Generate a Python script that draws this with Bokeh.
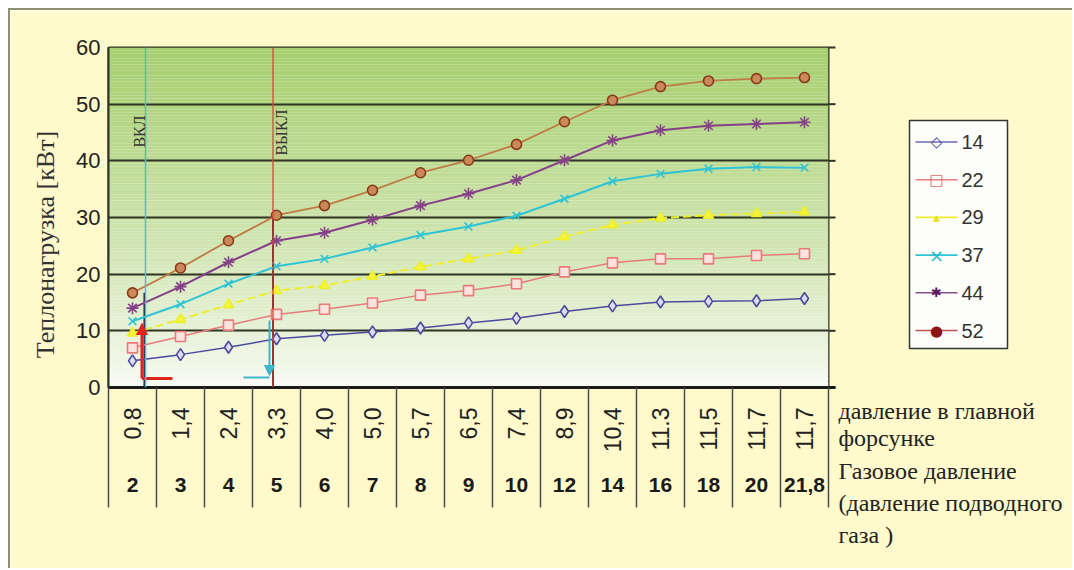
import numpy as np
from math import pi
from bokeh.plotting import figure
from bokeh.models import (Range1d, LinearAxis, FixedTicker, Span, Label, Arrow, NormalHead)
from bokeh.core.properties import value
from bokeh.embed import file_html
from bokeh.resources import INLINE

# ---------------- data ----------------
main_nozzle = ["0,8", "1,4", "2,4", "3,3", "4,0", "5,0", "5,7", "6,5", "7,4", "8,9",
               "10,4", "11.3", "11,5", "11,7", "11,7"]
gas_pressure = ["2", "3", "4", "5", "6", "7", "8", "9", "10", "12", "14", "16", "18", "20", "21,8"]

s14 = [4.7, 5.8, 7.1, 8.6, 9.2, 9.8, 10.5, 11.4, 12.2, 13.4, 14.4, 15.1, 15.2, 15.3, 15.7]
s22 = [7.0, 9.0, 11.0, 12.9, 13.8, 14.9, 16.3, 17.1, 18.3, 20.4, 22.0, 22.7, 22.7, 23.3, 23.6]
s29 = [9.6, 12.0, 14.6, 17.1, 18.0, 19.6, 21.3, 22.7, 24.2, 26.6, 28.7, 29.9, 30.4, 30.7, 31.0]
s37 = [11.7, 14.7, 18.3, 21.4, 22.7, 24.7, 26.9, 28.4, 30.3, 33.3, 36.4, 37.7, 38.6, 38.9, 38.8]
s44 = [14.0, 17.8, 22.1, 25.9, 27.3, 29.6, 32.1, 34.2, 36.6, 40.1, 43.6, 45.4, 46.2, 46.5, 46.8]
s52 = [16.7, 21.1, 25.9, 30.4, 32.1, 34.8, 37.9, 40.1, 42.9, 46.9, 50.7, 53.1, 54.1, 54.5, 54.7]
series_names = ["14", "22", "29", "37", "44", "52"]
series_values = [s14, s22, s29, s37, s44, s52]

y_ticks = [0, 10, 20, 30, 40, 50, 60]
y_title = "Теплонагрузка [кВт]"
right_texts = ["давление в главной", "форсунке", "Газовое давление",
               "(давление подводного", "газа )"]
on_label, off_label = "ВКЛ", "ВЫКЛ"

# ---------------- layout helpers ----------------
n_cat = len(main_nozzle)
xs = [i + 0.5 for i in range(n_cat)]
cream = "#FFF9CB"
dark = "#2e3424"

FRAME_L, FRAME_B = 108, 387          # page pixels of the frame's lower-left corner
FRAME_W, FRAME_H = 720, 340
Y_MAX = 60
PX_X = FRAME_W / n_cat
PX_Y = FRAME_H / Y_MAX
CANVAS_W, CANVAS_H = 1064, 560


def dx(px):
    return (px - FRAME_L) / PX_X


def dy(py):
    return (FRAME_B - py) / PX_Y


p = figure(width=CANVAS_W, height=CANVAS_H, x_range=Range1d(0, n_cat), y_range=Range1d(0, Y_MAX),
           output_backend="svg", toolbar_location=None, x_axis_location=None,
           min_border_left=FRAME_L - 10, min_border_right=CANVAS_W + 10 - FRAME_L - FRAME_W,
           min_border_top=FRAME_B - FRAME_H - 10, min_border_bottom=CANVAS_H + 10 - FRAME_B)
p.margin = (8, 0, 0, 8)
p.styles = {"border-top": "2px solid #8f8f72", "border-left": "2px solid #8f8f72"}
p.border_fill_color = cream
p.background_fill_color = "#fbfcf7"
p.outline_line_color = dark
p.outline_line_width = 2

# gradient background (decoration), painted below the grid
n_strip = 120
edges = np.linspace(0, Y_MAX, n_strip + 1)
top_c = np.array([165, 206, 108])
bot_c = np.array([251, 252, 248])
cols = []
for k in range(n_strip):
    t = ((edges[k] + edges[k + 1]) / 2) / Y_MAX
    c = bot_c + (top_c - bot_c) * (t ** 0.8)
    cols.append("#%02x%02x%02x" % tuple(int(round(v)) for v in c))
p.quad(left=0, right=n_cat, bottom=edges[:-1], top=edges[1:],
       fill_color=cols, line_color=None, level="image")

# grid
p.xgrid.visible = False
p.ygrid.ticker = FixedTicker(ticks=y_ticks)
p.ygrid.grid_line_color = dark
p.ygrid.grid_line_width = 2

# y axis
yax = p.yaxis[0]
yax.ticker = FixedTicker(ticks=y_ticks)
yax.major_tick_out = 0
yax.major_tick_in = 0
yax.minor_tick_out = 0
yax.minor_tick_in = 0
yax.axis_line_color = dark
yax.axis_line_width = 2
yax.major_label_standoff = 8
yax.major_label_text_font = "Liberation Sans"
yax.major_label_text_font_size = "22px"
yax.major_label_text_color = "#222222"

# right-side tick stubs and axis-line overhang (outside the frame -> overlay level)
p.segment(x0=n_cat, x1=n_cat + dx(FRAME_L + 7), y0=y_ticks, y1=y_ticks,
          line_color=dark, line_width=2, level="overlay")
p.segment(x0=[n_cat], x1=[n_cat + dx(FRAME_L + 7)], y0=[0], y1=[0],
          line_color="#1a1a1a", line_width=3, level="overlay")

# bottom "table" axes
ax1 = LinearAxis(ticker=FixedTicker(ticks=xs, minor_ticks=[]),
                 major_label_overrides={x: lab for x, lab in zip(xs, main_nozzle)},
                 major_label_orientation=pi / 2,
                 major_tick_out=0, major_tick_in=0, minor_tick_out=0, minor_tick_in=0,
                 axis_line_color="#1a1a1a", axis_line_width=3,
                 major_label_standoff=20, major_label_text_font="Liberation Sans",
                 major_label_text_font_size="23px", major_label_text_color="#222222")
p.add_layout(ax1, "below")
ax2 = LinearAxis(ticker=FixedTicker(ticks=xs, minor_ticks=[]),
                 major_label_overrides={x: lab for x, lab in zip(xs, gas_pressure)},
                 major_tick_out=0, major_tick_in=0, minor_tick_out=0, minor_tick_in=0,
                 axis_line_color=None, major_label_standoff=22,
                 major_label_text_font="Liberation Sans", major_label_text_font_style="bold",
                 major_label_text_font_size="21px", major_label_text_color="#1a1a1a")
p.add_layout(ax2, "below")

# table dividers (below the frame)
p.segment(x0=list(range(n_cat + 1)), x1=list(range(n_cat + 1)), y0=0, y1=dy(507),
          line_color="#4a4a4a", line_width=1.5, level="overlay")

# on / off markers
on_x, off_x = dx(145), dx(272.5)
p.add_layout(Span(location=on_x, dimension="height", line_color="#5bb8c8", line_width=1.5))
p.add_layout(Span(location=off_x, dimension="height", line_color="#d04a3c", line_width=1.3))
p.add_layout(Label(x=dx(139), y=dy(131), text=on_label, angle=pi / 2, text_align="center",
                   text_baseline="middle", text_font="Liberation Serif", text_font_size="16px",
                   text_color="#333333"))
p.add_layout(Label(x=dx(281), y=dy(132), text=off_label, angle=pi / 2, text_align="center",
                   text_baseline="middle", text_font="Liberation Serif", text_font_size="16px",
                   text_color="#333333"))
p.segment(x0=[dx(144), off_x], y0=[0, 0], x1=[dx(144), off_x],
          y1=[s52[0], s52[3]], line_color="#1e1e1e", line_width=2)

# arrows
red = "#e0241e"
cyan = "#3fb6cf"
p.segment(x0=[dx(141.5)], y0=[dy(378)], x1=[dx(172)], y1=[dy(378)], line_color=red, line_width=3)
p.add_layout(Arrow(end=NormalHead(size=11, fill_color=red, line_color=red),
                   x_start=dx(141.5), y_start=dy(378), x_end=dx(141.5), y_end=dy(323),
                   line_color=red, line_width=3))
p.segment(x0=[dx(243)], y0=[dy(377)], x1=[dx(269)], y1=[dy(377)], line_color=cyan, line_width=2)
p.add_layout(Arrow(end=NormalHead(size=10, fill_color=cyan, line_color=cyan),
                   x_start=dx(269), y_start=dy(320), x_end=dx(269), y_end=dy(375),
                   line_color=cyan, line_width=2))

# series
styles = [
    dict(color="#4b4b9e", marker="diamond", size=12, fill="#dcdcf4", dash="solid", lw=1.5,
         sym="◇", scol="#4b4b9e", ssize="15px", lline="#6a6ab0"),
    dict(color="#e87a7a", marker="square", size=10, fill="#fbe4e0", dash="solid", lw=1.5,
         sym="□", scol="#e06a6a", ssize="15px", lline="#e88080"),
    dict(color="#eeee2c", marker="triangle", size=10, fill="#f4f43a", dash="8 4", lw=2,
         sym="▴", scol="#e8e020", ssize="14px", lline="#eeee2c"),
    dict(color="#2ec4d6", marker="x", size=11, fill="#2ec4d6", dash="solid", lw=2,
         sym="×", scol="#22b8cc", ssize="18px", lline="#2ec4d6"),
    dict(color="#86408a", marker="asterisk", size=12, fill="#86408a", dash="solid", lw=2,
         sym="✱", scol="#5a1a5e", ssize="13px", lline="#86508a"),
    dict(color="#c07a45", marker="circle", size=10, fill="#c98a5a", dash="solid", lw=1.8,
         sym="●", scol="#8a1414", ssize="15px", lline="#c05050"),
]
for name, vals, st in zip(series_names, series_values, styles):
    p.line(xs, vals, line_color=st["color"], line_width=st["lw"], line_dash=st["dash"])
    mc = st["color"] if name != "52" else "#8a3a1a"
    p.scatter(xs, vals, marker=st["marker"], size=st["size"], line_color=mc,
              fill_color=st["fill"], line_width=1.6)

# legend (outside the frame, drawn at overlay level)
p.quad(left=dx(909), right=dx(1007), bottom=dy(348), top=dy(120),
       fill_color="#fdfdfa", line_color="#333333", line_width=1.5, level="overlay")
for i, (name, st) in enumerate(zip(series_names, styles)):
    row = dy(141.5 + 37.7 * i)
    p.segment(x0=[dx(915)], x1=[dx(957)], y0=[row], y1=[row], line_color=st["lline"],
              line_width=1.6, level="overlay")
    p.text(x=[dx(936)], y=[row], text=[st["sym"]], text_align="center", text_baseline="middle",
           text_font=value("DejaVu Sans"), text_font_size=st["ssize"],
           text_color=st["scol"], level="overlay")
    p.text(x=[dx(961)], y=[row], text=[name], text_align="left", text_baseline="middle",
           text_font=value("Liberation Sans"), text_font_size="20px",
           text_color="#333333", level="overlay")

# y title (outside the frame -> overlay level)
p.text(x=[dx(45)], y=[dy(244)], text=[y_title], angle=pi / 2, text_align="center",
       text_baseline="middle", text_font=value("Liberation Serif"),
       text_font_size="26px", text_color="#333333", level="overlay")

# right-hand explanatory texts
p.text(x=[dx(838)] * len(right_texts), y=[dy(v) for v in (410, 437, 470, 502, 534)],
       text=right_texts, text_align="left", text_baseline="middle",
       text_font=value("Liberation Serif"), text_font_size="24px", text_color="#222222",
       level="overlay")

open("out.html", "w").write(file_html(p, INLINE))
